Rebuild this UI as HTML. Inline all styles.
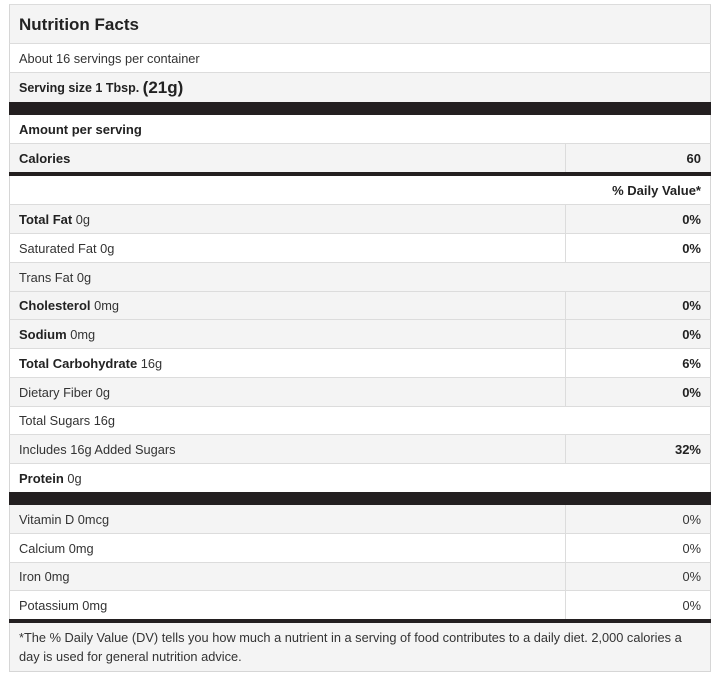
<!DOCTYPE html>
<html>
<head>
<meta charset="utf-8">
<style>
  html,body{margin:0;padding:0;background:#fff;}
  body{width:715px;height:676px;position:relative;overflow:hidden;font-family:"Liberation Sans",Arial,sans-serif;color:#333;}
  .r{position:absolute;left:9px;width:702px;box-sizing:border-box;border-left:1px solid #d6d6d6;border-right:1px solid #d6d6d6;border-top:1px solid #dcdcdc;display:flex;align-items:center;padding-left:9px;font-size:12.8px;white-space:nowrap;}
  .g{background:#f4f4f4;}
  .w{background:#fff;}
  .bar{position:absolute;left:9px;width:702px;background:#231f20;}
  .b{font-weight:bold;color:#222;font-size:13px;}
  .v{position:absolute;right:9px;top:0;bottom:0;display:flex;align-items:center;}
  .d{position:absolute;left:555px;top:0;bottom:0;width:1px;background:#dcdcdc;}
</style>
</head>
<body>
  <div class="r g" style="top:4px;height:39px;padding-top:2px;"><span class="b" style="font-size:17px;">Nutrition Facts</span></div>
  <div class="r w" style="top:43px;height:29px;">About 16 servings per container</div>
  <div class="r g" style="top:72px;height:30px;"><span class="b" style="font-size:12.5px;">Serving size 1 Tbsp.&nbsp;</span><span class="b" style="font-size:17px;">(21g)</span></div>
  <div class="bar" style="top:102px;height:13px;"></div>
  <div class="r w" style="top:115px;height:28px;border-top:none;"><span class="b">Amount per serving</span></div>
  <div class="r g" style="top:143px;height:29px;"><span class="b">Calories</span><div class="d"></div><div class="v b">60</div></div>
  <div class="bar" style="top:172px;height:4px;"></div>
  <div class="r w" style="top:176px;height:28px;border-top:none;"><div class="v b">% Daily Value*</div></div>

  <div class="r g" style="top:204px;height:29px;"><span class="b">Total Fat</span>&nbsp;0g<div class="d"></div><div class="v b">0%</div></div>
  <div class="r w" style="top:233px;height:29px;">Saturated Fat 0g<div class="d"></div><div class="v b">0%</div></div>
  <div class="r g" style="top:262px;height:29px;">Trans Fat 0g</div>
  <div class="r g" style="top:291px;height:28px;"><span class="b">Cholesterol</span>&nbsp;0mg<div class="d"></div><div class="v b">0%</div></div>
  <div class="r g" style="top:319px;height:29px;"><span class="b">Sodium</span>&nbsp;0mg<div class="d"></div><div class="v b">0%</div></div>
  <div class="r w" style="top:348px;height:29px;"><span class="b">Total Carbohydrate</span>&nbsp;16g<div class="d"></div><div class="v b">6%</div></div>
  <div class="r g" style="top:377px;height:29px;">Dietary Fiber 0g<div class="d"></div><div class="v b">0%</div></div>
  <div class="r w" style="top:406px;height:28px;">Total Sugars 16g</div>
  <div class="r g" style="top:434px;height:29px;">Includes 16g Added Sugars<div class="d"></div><div class="v b">32%</div></div>
  <div class="r w" style="top:463px;height:29px;"><span class="b">Protein</span>&nbsp;0g</div>
  <div class="bar" style="top:492px;height:13px;"></div>

  <div class="r g" style="top:505px;height:28px;border-top:none;">Vitamin D 0mcg<div class="d"></div><div class="v">0%</div></div>
  <div class="r w" style="top:533px;height:29px;">Calcium 0mg<div class="d"></div><div class="v">0%</div></div>
  <div class="r g" style="top:562px;height:28px;">Iron 0mg<div class="d"></div><div class="v">0%</div></div>
  <div class="r w" style="top:590px;height:29px;">Potassium 0mg<div class="d"></div><div class="v">0%</div></div>
  <div class="bar" style="top:619px;height:4px;"></div>
  <div class="r g" style="top:623px;height:49px;border-top:none;border-bottom:1px solid #d6d6d6;align-items:flex-start;padding-top:5px;line-height:19px;">*The % Daily Value (DV) tells you how much a nutrient in a serving of food contributes to a daily diet. 2,000 calories a<br>day is used for general nutrition advice.</div>
</body>
</html>
